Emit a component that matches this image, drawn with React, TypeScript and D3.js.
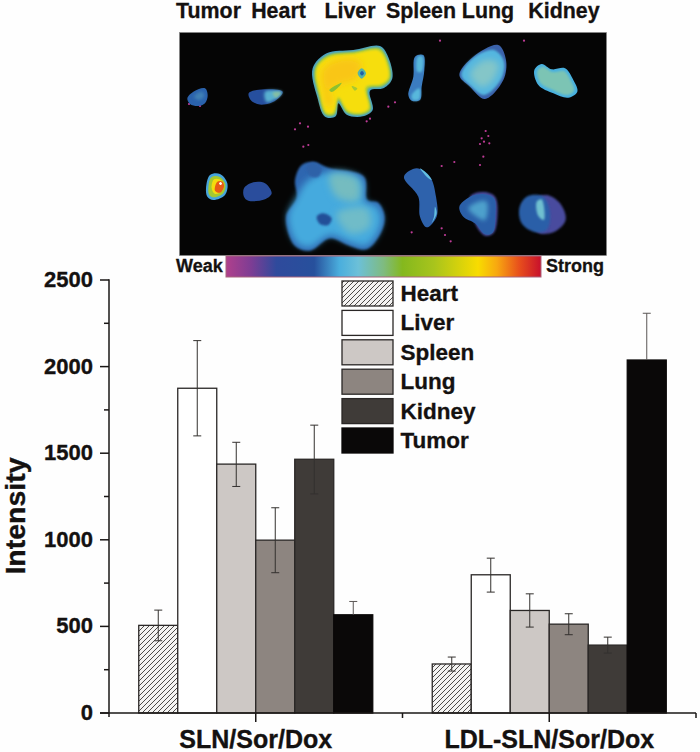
import React from "react";
import * as d3 from "d3";

const groups = ["SLN/Sor/Dox", "LDL-SLN/Sor/Dox"];
const organs = ["Heart", "Liver", "Spleen", "Lung", "Kidney", "Tumor"];
const fills = ["url(#hatch)", "#ffffff", "#cdc8c5", "#8d8580", "#3f3b38", "#0a0808"];
const sln = [506, 1875, 1437, 998, 1465, 567];
const slnHi = [594, 2150, 1563, 1185, 1662, 644];
const slnLo = [417, 1600, 1308, 810, 1265, 490];
const ldl = [283, 798, 592, 513, 392, 2038];
const ldlHi = [323, 894, 688, 573, 438, 2308];
const ldlLo = [242, 698, 496, 452, 346, 1768];
const yMajor = [0, 500, 1000, 1500, 2000, 2500];
const yMinor = [250, 750, 1250, 1750, 2250];

const topLabels: [string, number][] = [["Tumor", 208.5], ["Heart", 278.5], ["Liver", 350], ["Spleen", 421], ["Lung", 488], ["Kidney", 564]];
const barStops: [number, string][] = [[0, "#b0408c"], [0.08, "#7d3d94"], [0.16, "#2f4a9c"], [0.28, "#27509c"], [0.36, "#4aaedd"], [0.42, "#6cc0d8"], [0.5, "#7fbb80"], [0.56, "#84b81e"], [0.66, "#a8c41c"], [0.8, "#f8dc00"], [0.86, "#f8a810"], [0.93, "#e8501c"], [1, "#c8102c"]];

// Tissue image shapes, in crop units of the photo panel
type B = { c: string; p: number[][]; b?: number };
const blobs: B[] = [
  { c: "#2c62ac", p: [[52,295],[70,275],[105,265],[113,285],[105,310],[85,318],[60,312]], b: 1 },
  { c: "#3f80b4", p: [[72,290],[95,275],[103,288],[88,300]], b: 4 },
  { c: "#27509e", p: [[236,280],[260,270],[338,275],[325,295],[300,310],[265,313],[242,300]], b: 1 },
  { c: "#58b0d0", p: [[285,275],[336,276],[318,296],[290,306]], b: 4 },
  { c: "#84bea4", p: [[308,278],[334,277],[318,294]], b: 3 },
  { c: "#3f9fd0", p: [[428,205],[470,160],[550,150],[630,138],[652,165],[667,235],[642,264],[600,272],[608,330],[578,349],[530,344],[505,310],[497,349],[465,350],[442,292]], b: 1 },
  { c: "#a8cc38", p: [[434,207],[472,166],[552,155],[628,144],[648,168],[662,234],[638,259],[594,267],[602,329],[576,344],[531,338],[505,300],[494,344],[467,345],[447,290]], b: 2 },
  { c: "#f6de10", p: [[440,208],[476,172],[554,161],[624,151],[643,172],[656,232],[633,253],[588,261],[596,325],[574,338],[534,332],[505,292],[490,338],[470,339],[452,287]], b: 3 },
  { c: "#f9c612", p: [[455,215],[490,182],[560,178],[575,195],[555,240],[520,250],[480,270],[490,310],[470,320],[460,270]], b: 9 },
  { c: "#8cc030", p: [[478,270],[515,248],[505,262],[485,276]], b: 1 },
  { c: "#a8c830", p: [[545,258],[562,265],[555,272]], b: 1 },
  { c: "#54b4a8", p: [[563,220],[575,205],[588,220],[575,236]], b: 1 },
  { c: "#1f5fa8", p: [[570,220],[576,213],[582,220],[576,227]], b: 0.5 },
  { c: "#3a7cc0", p: [[735,170],[760,165],[763,210],[755,260],[750,300],[725,302],[715,285],[730,230]], b: 1 },
  { c: "#58b8dc", p: [[743,170],[758,170],[755,215],[742,215]], b: 3 },
  { c: "#58b8dc", p: [[725,285],[748,265],[748,298],[728,300]], b: 3 },
  { c: "#3a62aa", p: [[868,225],[910,170],[985,135],[1008,180],[1000,240],[945,297],[900,260]], b: 1 },
  { c: "#52b6e0", p: [[874,225],[912,172],[972,150],[1002,185],[992,240],[942,285],[902,258]], b: 2 },
  { c: "#84c6c8", p: [[900,222],[945,180],[985,190],[970,240],[935,262]], b: 9 },
  { c: "#46b0e0", p: [[1093,210],[1115,192],[1145,208],[1185,205],[1210,240],[1222,275],[1195,293],[1150,280],[1105,255]], b: 1 },
  { c: "#7cc4b4", p: [[1102,213],[1118,200],[1148,216],[1182,213],[1203,243],[1212,272],[1192,285],[1153,272],[1112,250]], b: 2 },
  { c: "#46a4dc", p: [[108,565],[120,525],[150,522],[172,550],[165,585],[130,600],[112,590]], b: 1 },
  { c: "#a4c830", p: [[115,565],[124,532],[148,530],[166,552],[160,580],[132,592],[118,585]], b: 1 },
  { c: "#f4dc10", p: [[125,565],[132,538],[148,538],[162,552],[155,574],[135,582]], b: 1 },
  { c: "#e85c14", p: [[135,572],[142,545],[158,545],[162,560],[150,578]], b: 1 },
  { c: "#ffffff", p: [[147,550],[152,546],[156,551],[151,555]], b: 0.5 },
  { c: "#2a4e9c", p: [[222,565],[250,547],[285,550],[305,580],[285,598],[235,602],[222,590]], b: 1 },
  { c: "#2f66b0", p: [[375,540],[395,495],[430,485],[480,505],[582,530],[592,600],[625,608],[644,650],[632,700],[590,748],[540,738],[480,715],[420,752],[375,738],[348,650],[380,595]], b: 2 },
  { c: "#44aade", p: [[382,590],[410,545],[480,515],[575,538],[585,605],[620,618],[636,655],[624,698],[588,738],[540,728],[480,706],[420,742],[380,728],[354,650]], b: 9 },
  { c: "#74bcc0", p: [[480,525],[560,535],[565,600],[500,590]], b: 9 },
  { c: "#70bcc8", p: [[500,640],[590,625],[600,680],[540,700]], b: 9 },
  { c: "#2f62a8", p: [[410,500],[430,488],[455,505],[445,530],[420,528]], b: 3 },
  { c: "#245098", p: [[440,650],[460,640],[485,655],[475,675],[450,672]], b: 3 },
  { c: "#2f62ac", p: [[702,530],[740,505],[780,530],[798,590],[800,650],[770,682],[750,650],[745,590]], b: 1 },
  { c: "#64c0e0", p: [[750,505],[775,525],[785,540],[770,530]], b: 1 },
  { c: "#64c0e0", p: [[795,620],[800,640],[785,670],[792,650]], b: 1 },
  { c: "#4a4ea0", p: [[900,590],[940,576],[975,590],[982,650],[970,700],[945,707],[915,670]], b: 2 },
  { c: "#2c5ea8", p: [[868,620],[900,590],[940,582],[972,595],[976,650],[968,698],[945,703],[915,670],[880,650]], b: 1 },
  { c: "#4da0cc", p: [[895,625],[925,605],[950,605],[945,660],[920,650]], b: 5 },
  { c: "#4a4c9e", p: [[1100,595],[1130,585],[1170,610],[1187,660],[1150,697],[1100,695]], b: 3 },
  { c: "#2c5ea8", p: [[1048,625],[1070,590],[1120,590],[1140,640],[1130,690],[1090,695],[1055,670]], b: 3 },
  { c: "#70c0d0", p: [[1100,605],[1115,598],[1122,660],[1105,648]], b: 2 },
];
const specks: number[][] = [[375,388],[390,370],[414,380],[415,435],[400,440],[600,356],[590,364],[655,320],[675,307],[810,122],[1062,122],[947,393],[935,415],[955,408],[930,432],[958,430],[942,425],[940,470],[930,495],[815,498],[853,486],[725,697],[815,685],[825,705],[842,724],[57,312],[90,318]];

const toX = (v: number) => 170 + v / 3;
const toY = (v: number) => v / 3;
const blobLine = d3.line<number[]>().x(d => toX(d[0])).y(d => toY(d[1])).curve(d3.curveCatmullRomClosed.alpha(0.5));

const FONT = "'Liberation Sans', Arial, sans-serif";
const blurId = (b: number) => `bl${String(b).replace(".", "_")}`;

export default function App() {
  const y = d3.scaleLinear().domain([0, 2500]).range([713, 280]);
  const x = d3.scaleLinear().domain([0.5, 2.5]).range([109, 696]);
  const barW = 39;
  const series = [
    { vals: sln, hi: slnHi, lo: slnLo, center: x(1) },
    { vals: ldl, hi: ldlHi, lo: ldlLo, center: x(2) },
  ];
  const inkFor = (i: number) => (i < 5 ? "#2a2726" : "#0a0808");
  return (
    <svg width={700} height={752} style={{ position: "absolute", left: 0, top: 0, background: "#fefefe" }} fontFamily={FONT} fontWeight="bold" fill="#141110" stroke="none">
      <defs>
        <pattern id="hatch" width={5} height={5} patternUnits="userSpaceOnUse">
          <rect width={5} height={5} fill="#f4f3f2" />
          <path d="M-1,1 L1,-1 M0,5 L5,0 M4,6 L6,4" stroke="#3a3736" strokeWidth={0.9} />
        </pattern>
        <linearGradient id="cbar">
          {barStops.map(([o, c]) => <stop key={o} offset={o} stopColor={c} />)}
        </linearGradient>
        <clipPath id="photo"><rect x={180} y={33} width={426} height={222} /></clipPath>
        {[0.5, 1, 2, 3, 4, 5, 9].map(b => (
          <filter key={b} id={blurId(b)} x="-30%" y="-30%" width="160%" height="160%">
            <feGaussianBlur stdDeviation={b / 2.4} />
          </filter>
        ))}
      </defs>

      {/* photo panel */}
      <rect x={179.5} y={32.5} width={427} height={223} fill="#050505" stroke="#888" strokeWidth={0.6} />
      <g clipPath="url(#photo)">
        {specks.map(([a, b], i) => <circle key={i} cx={toX(a)} cy={toY(b)} r={1.1} fill="#c03c98" />)}
        {blobs.map((s, i) => (
          <path key={i} d={blobLine(s.p) ?? ""} fill={s.c} filter={`url(#${blurId(s.b ?? 1)})`} />
        ))}
      </g>
      <g stroke="#141110" strokeWidth={0.3}>
        {topLabels.map(([t, cx]) => (
          <text key={t} x={cx} y={18} fontSize={21.4} textAnchor="middle">{t}</text>
        ))}
        <text x={176} y={272} fontSize={18}>Weak</text>
        <text x={546} y={272} fontSize={18}>Strong</text>
      </g>

      {/* colour bar */}
      <rect x={226} y={256} width={315} height={21} fill="url(#cbar)" stroke="#a8647c" strokeWidth={1} />

      {/* bars */}
      {series.map((s, g) => (
        <g key={g}>
          {s.vals.map((v, i) => {
            const bx = s.center - 3 * barW + i * barW;
            return (
              <rect key={i} x={bx} y={y(v)} width={barW} height={y(0) - y(v)} fill={fills[i]} stroke={inkFor(i)} strokeWidth={1.3} />
            );
          })}
          {s.vals.map((v, i) => {
            const cx = s.center - 3 * barW + (i + 0.5) * barW;
            const bottom = i === 5 ? y(v) : y(s.lo[i]);
            return (
              <g key={i} stroke={i === 5 ? "#5a5654" : "#33302e"} strokeWidth={1} fill="none">
                <line x1={cx} x2={cx} y1={y(s.hi[i])} y2={bottom} />
                <line x1={cx - 4} x2={cx + 4} y1={y(s.hi[i])} y2={y(s.hi[i])} />
                {i < 5 && <line x1={cx - 4} x2={cx + 4} y1={y(s.lo[i])} y2={y(s.lo[i])} />}
              </g>
            );
          })}
        </g>
      ))}

      {/* axes */}
      <g stroke="#1a1716" strokeWidth={1.5} fill="none">
        <line x1={109} x2={109} y1={y(2500) - 0.7} y2={y(0) + 4} />
        <line x1={100} x2={x(2.5)} y1={y(0)} y2={y(0)} />
        {yMajor.map(v => <line key={v} x1={100} x2={109} y1={y(v)} y2={y(v)} />)}
        {yMinor.map(v => <line key={v} x1={104} x2={109} y1={y(v)} y2={y(v)} />)}
        {[1, 2].map(v => <line key={v} x1={x(v)} x2={x(v)} y1={y(0)} y2={y(0) + 9} />)}
        {[1.5, 2.5].map(v => <line key={v} x1={x(v)} x2={x(v)} y1={y(0)} y2={y(0) + 5} />)}
      </g>
      <g stroke="#141110" strokeWidth={0.35}>
        {yMajor.map(v => (
          <text key={v} x={93} y={y(v) + 7} fontSize={22} textAnchor="end">{v}</text>
        ))}
        {groups.map((g, i) => (
          <text key={g} x={x(i + 1)} y={747.5} fontSize={25} textAnchor="middle">{g}</text>
        ))}
        <text transform="translate(25,516) rotate(-90)" fontSize={28.5} textAnchor="middle">Intensity</text>
      </g>

      {/* legend */}
      {organs.map((o, i) => {
        const ly = 281 + i * 29.4;
        return (
          <g key={o}>
            <rect x={342} y={ly} width={51} height={25} fill={fills[i]} stroke={inkFor(i)} strokeWidth={1.3} />
            <text x={400.5} y={ly + 20} fontSize={22.5} stroke="#141110" strokeWidth={0.3}>{o}</text>
          </g>
        );
      })}
    </svg>
  );
}
